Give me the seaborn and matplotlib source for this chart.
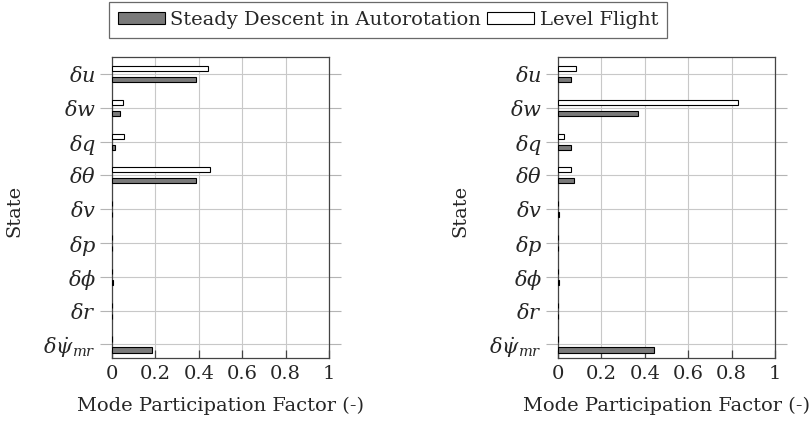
import numpy as np
import pandas as pd
import matplotlib
matplotlib.use("Agg")
import matplotlib.pyplot as plt
import seaborn as sns

states = [r'$\delta u$', r'$\delta w$', r'$\delta q$', r'$\delta \theta$', r'$\delta v$',
          r'$\delta p$', r'$\delta \phi$', r'$\delta r$', r'$\delta \dot{\psi}_{mr}$']
cases = ['Level Flight', 'Steady Descent in Autorotation']

# mode participation factors
left_level = [0.441, 0.049, 0.054, 0.453, 0.002, 0.001, 0.002, 0.001, 0.001]
left_descent = [0.386, 0.037, 0.014, 0.386, 0.002, 0.001, 0.006, 0.001, 0.184]
right_level = [0.081, 0.828, 0.029, 0.058, 0.002, 0.001, 0.002, 0.001, 0.001]
right_descent = [0.061, 0.370, 0.060, 0.072, 0.003, 0.001, 0.006, 0.002, 0.441]

xticks = [0, 0.2, 0.4, 0.6, 0.8, 1]
xtick_labels = ['0', '0.2', '0.4', '0.6', '0.8', '1']


def make_df(level, descent):
    return pd.DataFrame({
        'State': states * 2,
        'Case': [cases[0]] * len(states) + [cases[1]] * len(states),
        'Factor': level + descent,
    })


sns.set_style('white')
plt.rcParams['font.family'] = ['DejaVu Serif']
plt.rcParams['mathtext.fontset'] = 'dejavuserif'

palette = {cases[0]: 'white', cases[1]: '#7a7a7a'}

fig = plt.figure(figsize=(8.1, 4.26), dpi=100)
ax1 = fig.add_axes([0.1383, 0.1596, 0.2679, 0.7066])
ax2 = fig.add_axes([0.6889, 0.1596, 0.2679, 0.7066])

for ax, lv, ds in [(ax1, left_level, left_descent), (ax2, right_level, right_descent)]:
    df = make_df(lv, ds)
    sns.barplot(data=df, y='State', x='Factor', hue='Case', hue_order=cases,
                order=states, palette=palette, orient='h', width=0.65, gap=0.54,
                edgecolor='black', linewidth=0.8, ax=ax, legend=False, zorder=3)
    ax.set_xlim(0, 1)
    ax.set_ylim(8.4, -0.5)
    ax.set_xticks(xticks)
    ax.set_xticklabels(xtick_labels, fontsize=14)
    ax.tick_params(axis='y', labelsize=15, length=8.5, width=0.8, direction='out',
                   color='#b4b4b4', left=True, right=True, pad=3)
    ax.tick_params(axis='x', length=6, width=0.9, direction='in', color='#444444',
                   bottom=True, pad=5)
    ax.grid(True, color='#c8c8c8', linewidth=0.8, zorder=0)
    ax.set_axisbelow(True)
    for s in ax.spines.values():
        s.set_color('#444444')
        s.set_linewidth(0.9)
    ax.set_xlabel('Mode Participation Factor (-)', fontsize=14, labelpad=10)
    ax.set_ylabel('State', fontsize=14)
    ax.yaxis.set_label_coords(-0.41, 0.49)

handles = [plt.Rectangle((0, 0), 1, 1, facecolor='#7a7a7a', edgecolor='black', linewidth=0.8),
           plt.Rectangle((0, 0), 1, 1, facecolor='white', edgecolor='black', linewidth=0.8)]
leg = fig.legend(handles, [cases[1], cases[0]], loc='upper center',
                 bbox_to_anchor=(388 / 810, 1 - 2 / 426), ncol=2, fontsize=14,
                 frameon=True, fancybox=False, handlelength=2.4, handleheight=0.6,
                 columnspacing=0.3, handletextpad=0.3, borderpad=0.45, borderaxespad=0)
leg.get_frame().set_edgecolor('#444444')
leg.get_frame().set_linewidth(0.9)

fig.savefig('out.png', dpi=100)
